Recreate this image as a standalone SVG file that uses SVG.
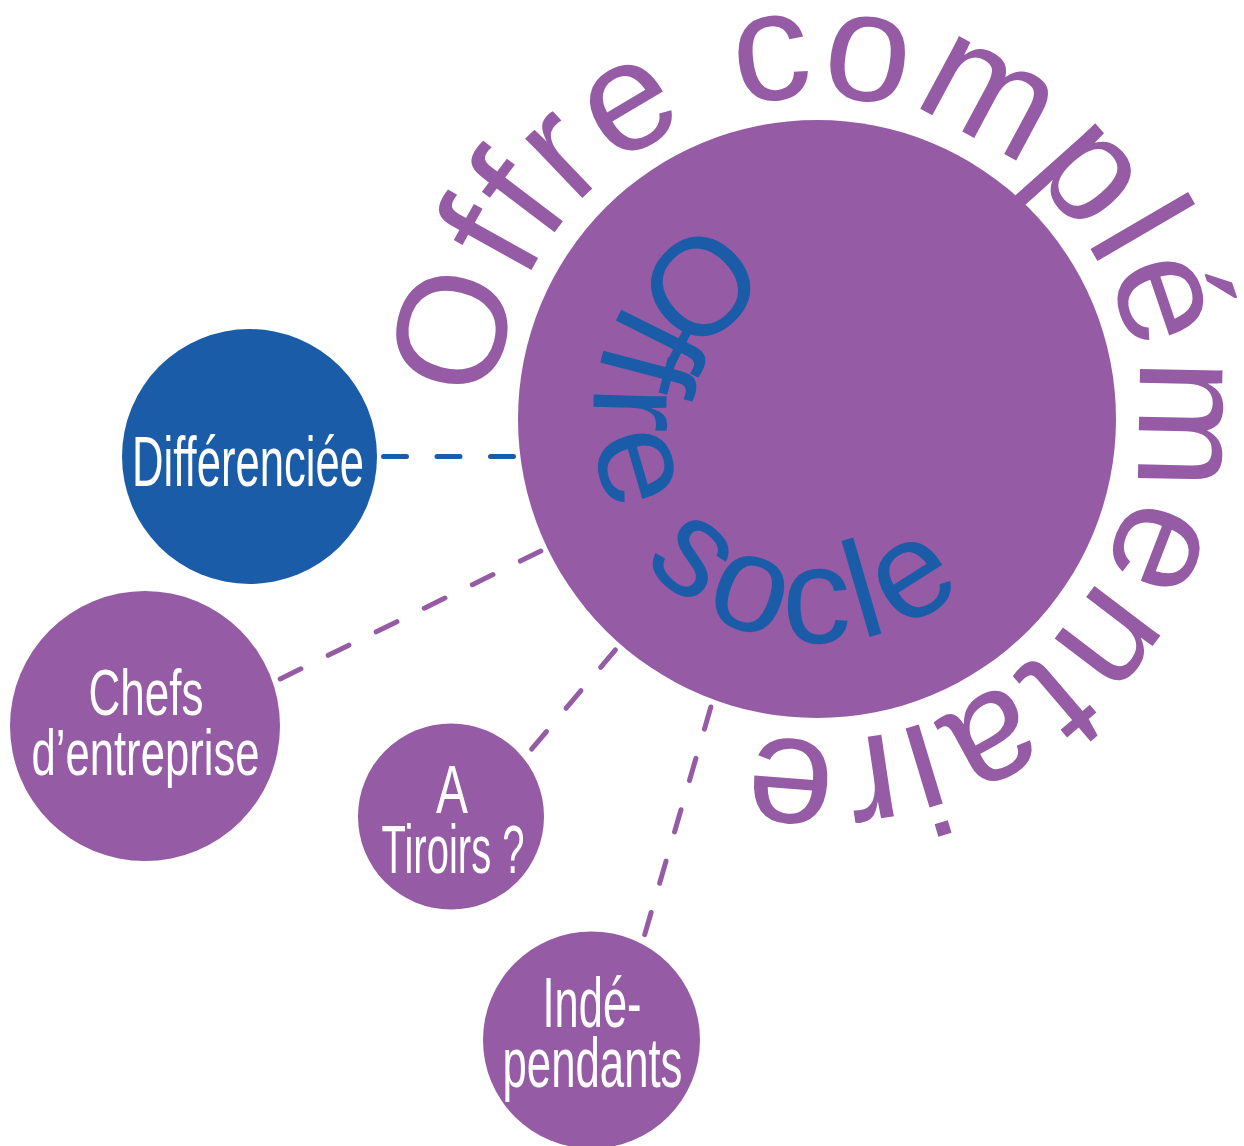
<svg xmlns="http://www.w3.org/2000/svg" width="1244" height="1146" viewBox="0 0 1244 1146">
<defs>
<style>
.purple{fill:#955ba5}
.blue{fill:#1b5ca8}
.lbl{font-family:"Liberation Sans",Arial,sans-serif;fill:#ffffff;text-anchor:middle}
.arc{font-family:"Liberation Sans",Arial,sans-serif}
.dash{fill:none;stroke-width:5;stroke-linecap:round;stroke-dasharray:23 30.5}
</style>
<path id="outerPath" d="M 495,419 A 322,322 0 1,1 1139,419 A 322,322 0 1,1 495,419"/>
<path id="innerPath" d="M 817,195 A 224,224 0 1,0 817,643 A 224,224 0 1,0 817,195"/>
</defs>
<rect width="1244" height="1146" fill="#ffffff"/>
<g id="connectors">
<path class="dash" stroke="#1b5ca8" d="M 383.5,456.5 L 515.5,456.5"/>
<path class="dash" stroke="#955ba5" d="M 280.2,678.9 L 540.8,551.1"/>
<path class="dash" stroke="#955ba5" d="M 531.6,749.1 L 615.4,649.9"/>
<path class="dash" stroke="#955ba5" d="M 644.7,934.6 L 711.3,705.4"/>
</g>
<g id="node-central">
<circle class="purple" cx="817" cy="419" r="299"/>
<text class="arc" font-size="138" fill="#1b5ca8" letter-spacing="9"><textPath href="#innerPath" startOffset="109">Offre socle</textPath></text>
</g>
<g id="label-offre-complementaire">
<text class="arc" font-size="156" fill="#955ba5" letter-spacing="3.7"><textPath href="#outerPath" startOffset="16">Offre complémentaire</textPath></text>
</g>
<g id="node-differenciee">
<circle class="blue" cx="249.5" cy="456.5" r="127.5"/>
<text class="lbl" x="248" y="486" font-size="71" textLength="232" lengthAdjust="spacingAndGlyphs">Différenciée</text>
</g>
<g id="node-chefs">
<circle class="purple" cx="145" cy="726" r="135"/>
<text class="lbl" x="146" y="714.5" font-size="64" textLength="115" lengthAdjust="spacingAndGlyphs">Chefs</text>
<text class="lbl" x="145.5" y="775" font-size="64" textLength="228" lengthAdjust="spacingAndGlyphs">d’entreprise</text>
</g>
<g id="node-tiroirs">
<circle class="purple" cx="451" cy="816.5" r="93"/>
<text class="lbl" x="452" y="813" font-size="68" textLength="32" lengthAdjust="spacingAndGlyphs">A</text>
<text class="lbl" x="453" y="873" font-size="68" textLength="143" lengthAdjust="spacingAndGlyphs">Tiroirs ?</text>
</g>
<g id="node-independants">
<circle class="purple" cx="591.5" cy="1040" r="108.5"/>
<text class="lbl" x="592" y="1027" font-size="70" textLength="99" lengthAdjust="spacingAndGlyphs">Indé-</text>
<text class="lbl" x="592.5" y="1087" font-size="70" textLength="180" lengthAdjust="spacingAndGlyphs">pendants</text>
</g>
</svg>
